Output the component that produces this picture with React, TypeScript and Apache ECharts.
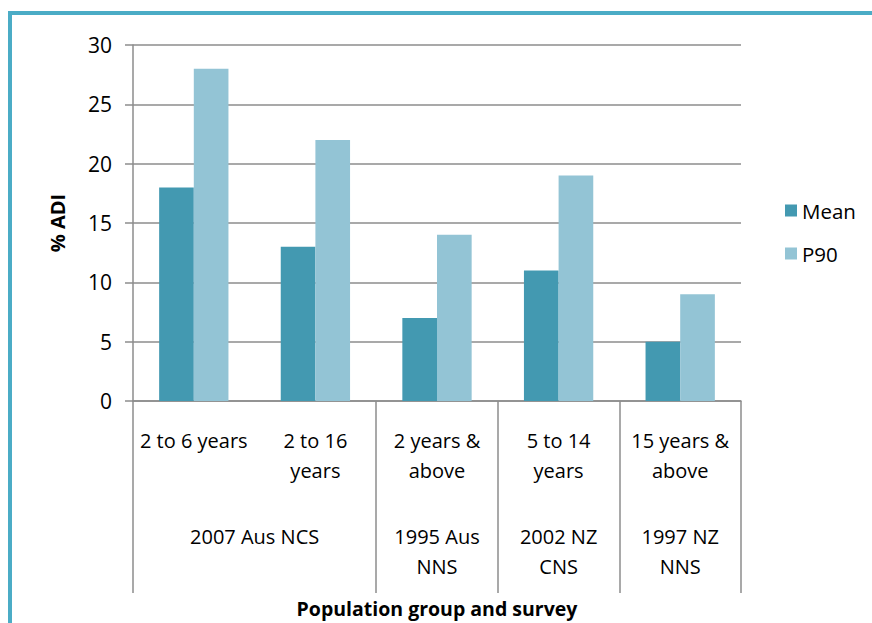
import React, { useEffect, useRef } from "react";
import * as echarts from "echarts";

const categories = ["2 to 6 years", "2 to 16\nyears", "2 years &\nabove", "5 to 14\nyears", "15 years &\nabove"];
const meanValues = [18, 13, 7, 11, 5];
const p90Values = [28, 22, 14, 19, 9];
const surveyNames = ["2007 Aus NCS", "1995 Aus\nNNS", "2002 NZ\nCNS", "1997 NZ\nNNS"];
const surveyCenters = [1, 2.5, 3.5, 4.5];
const surveyBounds = [0, 2, 3, 4, 5];

const FONT = "Open Sans";
const GRAY = "#8c8c8c";

export default function App() {
  const ref = useRef<HTMLDivElement>(null);
  useEffect(() => {
    const chart = echarts.init(ref.current!, null, { renderer: "svg" });
    chart.setOption({
      animation: false,
      backgroundColor: "#ffffff",
      textStyle: { fontFamily: FONT, color: "#000" },
      grid: { left: 133, top: 45, right: 131, bottom: 220, containLabel: false },
      legend: {
        orient: "vertical",
        left: 780,
        top: 195,
        itemWidth: 12,
        itemHeight: 12,
        itemGap: 22,
        icon: "rect",
        textStyle: { fontFamily: FONT, fontSize: 20.5, color: "#000", padding: [0, 0, 0, 0] },
        data: ["Mean", "P90"],
      },
      xAxis: [
        {
          type: "category",
          data: categories,
          position: "bottom",
          axisLine: { show: true, lineStyle: { color: GRAY, width: 1.5 } },
          axisTick: { show: false },
          axisLabel: {
            interval: 0,
            margin: 24,
            fontSize: 20,
            lineHeight: 30,
            color: "#000",
            fontFamily: FONT,
            verticalAlign: "top",
          },
          name: "Population group and survey",
          nameLocation: "middle",
          nameGap: 197,
          nameTextStyle: { fontFamily: FONT, fontSize: 19.5, fontWeight: "bold", color: "#000" },
        },
        {
          type: "value",
          min: 0,
          max: 5,
          position: "bottom",
          axisLine: { show: false },
          splitLine: { show: false },
          axisTick: {
            show: true,
            customValues: surveyBounds,
            length: 192,
            inside: false,
            lineStyle: { color: GRAY, width: 1.5 },
          },
          axisLabel: {
            customValues: surveyCenters,
            margin: 120,
            fontSize: 20,
            lineHeight: 30,
            color: "#000",
            fontFamily: FONT,
            verticalAlign: "top",
            formatter: (v: number) => surveyNames[surveyCenters.indexOf(v)] ?? "",
          },
        },
      ],
      yAxis: {
        type: "value",
        min: 0,
        max: 30,
        interval: 5,
        name: "% ADI",
        nameLocation: "middle",
        nameGap: 66,
        nameTextStyle: { fontFamily: FONT, fontSize: 20, fontWeight: "bold", color: "#000" },
        axisLine: { show: true, lineStyle: { color: GRAY, width: 1.5 } },
        axisTick: { show: true, length: 8, lineStyle: { color: GRAY, width: 1.5 } },
        splitLine: { show: true, lineStyle: { color: GRAY, width: 1.5 } },
        axisLabel: { fontSize: 21, color: "#000", margin: 21, fontFamily: FONT },
      },
      series: [
        {
          name: "Mean",
          type: "bar",
          data: meanValues,
          itemStyle: { color: "#4399b1" },
          barGap: "0%",
          barCategoryGap: "43%",
        },
        {
          name: "P90",
          type: "bar",
          data: p90Values,
          itemStyle: { color: "#93c4d5" },
          barGap: "0%",
          barCategoryGap: "43%",
        },
      ],
      graphic: [
        {
          type: "rect",
          shape: { x: 10, y: 13, width: 1000, height: 800 },
          style: { fill: "none", stroke: "#4bacc6", lineWidth: 4 },
          silent: true,
          z: 100,
        },
      ],
    });
    return () => chart.dispose();
  }, []);
  return (
    <div
      ref={ref}
      style={{ position: "fixed", left: 0, top: 0, width: 872, height: 623 }}
    />
  );
}
